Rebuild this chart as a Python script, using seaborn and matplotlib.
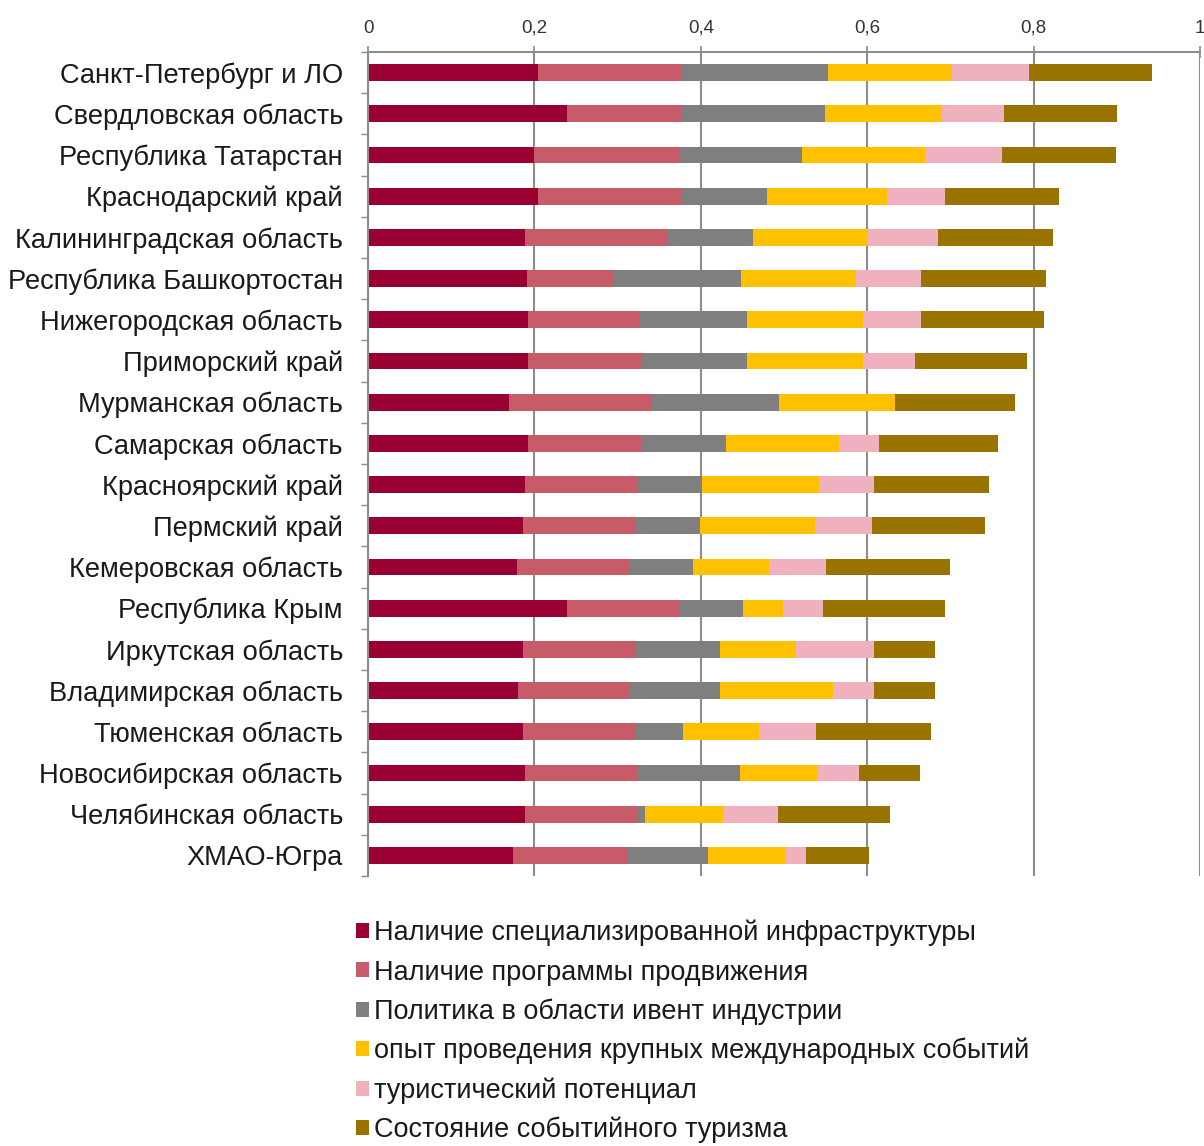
import numpy as np
import pandas as pd
import matplotlib
matplotlib.use("Agg")
import matplotlib.pyplot as plt
import seaborn as sns

regions = [
    "Санкт-Петербург и ЛО", "Свердловская область", "Республика Татарстан",
    "Краснодарский край", "Калининградская область", "Республика Башкортостан",
    "Нижегородская область", "Приморский край", "Мурманская область",
    "Самарская область", "Красноярский край", "Пермский край",
    "Кемеровская область", "Республика Крым", "Иркутская область",
    "Владимирская область", "Тюменская область", "Новосибирская область",
    "Челябинская область", "ХМАО-Югра",
]
infra = [0.204, 0.239, 0.200, 0.204, 0.189, 0.191, 0.192, 0.192, 0.169, 0.192,
         0.189, 0.186, 0.179, 0.239, 0.186, 0.180, 0.186, 0.189, 0.189, 0.174]
promo = [0.174, 0.137, 0.175, 0.173, 0.171, 0.104, 0.134, 0.136, 0.172, 0.136,
         0.135, 0.135, 0.135, 0.136, 0.136, 0.134, 0.135, 0.134, 0.135, 0.138]
policy = [0.175, 0.173, 0.147, 0.102, 0.103, 0.153, 0.129, 0.127, 0.153, 0.102,
          0.078, 0.078, 0.077, 0.076, 0.101, 0.109, 0.058, 0.124, 0.009, 0.097]
experience = [0.149, 0.141, 0.147, 0.145, 0.138, 0.138, 0.140, 0.140, 0.139, 0.136,
              0.140, 0.138, 0.091, 0.048, 0.091, 0.136, 0.091, 0.094, 0.094, 0.093]
tourism_potential = [0.093, 0.075, 0.093, 0.070, 0.084, 0.079, 0.070, 0.062, 0.000, 0.048,
                     0.066, 0.069, 0.069, 0.048, 0.094, 0.049, 0.068, 0.049, 0.066, 0.025]
event_tourism = [0.147, 0.135, 0.137, 0.137, 0.138, 0.150, 0.148, 0.135, 0.145, 0.143,
                 0.138, 0.136, 0.149, 0.147, 0.073, 0.073, 0.139, 0.074, 0.135, 0.075]

series_names = [
    "Наличие специализированной инфраструктуры",
    "Наличие программы продвижения",
    "Политика в области ивент индустрии",
    "опыт проведения крупных международных событий",
    "туристический потенциал",
    "Состояние событийного туризма",
]
colors = ["#9B0033", "#C75B68", "#7F7F7F", "#FFC000", "#EFB1BD", "#997300"]
xticks = [0, 0.2, 0.4, 0.6, 0.8, 1.0]
xtick_labels = ["0", "0,2", "0,4", "0,6", "0,8", "1"]

df = pd.DataFrame({
    "region": regions,
    series_names[0]: infra,
    series_names[1]: promo,
    series_names[2]: policy,
    series_names[3]: experience,
    series_names[4]: tourism_potential,
    series_names[5]: event_tourism,
})
cum = df[series_names].cumsum(axis=1)

sns.set_theme(style="white")
plt.rcParams["font.family"] = ["Liberation Sans", "DejaVu Sans"]

W, H = 1204, 1146
fig = plt.figure(figsize=(W / 100, H / 100), dpi=100)
ax = fig.add_axes([368 / W, 1 - 876 / H, 832 / W, (876 - 52) / H])

for k in range(len(series_names) - 1, -1, -1):
    sns.barplot(x=cum[series_names[k]], y=df["region"], orient="h",
                color=colors[k], saturation=1, width=0.41, ax=ax,
                label=series_names[k], linewidth=0)

handles, labels = ax.get_legend_handles_labels()
if ax.get_legend() is not None:
    ax.get_legend().remove()

ax.set_xlim(0, 1)
ax.set_ylim(19.5, -0.5)
ax.set_xlabel("")
ax.set_ylabel("")
ax.xaxis.tick_top()
ax.set_xticks(xticks)
ax.set_xticklabels(xtick_labels, fontsize=13.5, color="#333333")
ax.tick_params(axis="x", direction="inout", length=8, width=1.2, color="#8c8c8c", pad=7)
ax.tick_params(axis="y", which="major", length=0, pad=18, labelsize=19.6, labelcolor="#1a1a1a")
ax.set_yticks(np.arange(-0.5, 20, 1), minor=True)
ax.tick_params(axis="y", which="minor", length=5, width=1, color="#8c8c8c", left=True)
ax.set_axisbelow(True)
ax.grid(axis="x", color="#8c8c8c", linewidth=1.5)
ax.grid(axis="y", visible=False)
for s in ["right", "bottom"]:
    ax.spines[s].set_visible(False)
for s in ["top", "left"]:
    ax.spines[s].set_color("#8c8c8c")
    ax.spines[s].set_linewidth(1.5)

leg = fig.legend(handles[::-1], labels[::-1], loc="upper left",
                 bbox_to_anchor=(356 / W, 1 - 920 / H), frameon=False,
                 fontsize=19.5, handlelength=0.48, handleheight=0.48,
                 handletextpad=0.18, labelspacing=0.48, borderpad=0,
                 borderaxespad=0)
for t in leg.get_texts():
    t.set_color("#1a1a1a")

fig.savefig("out.png", dpi=100)
